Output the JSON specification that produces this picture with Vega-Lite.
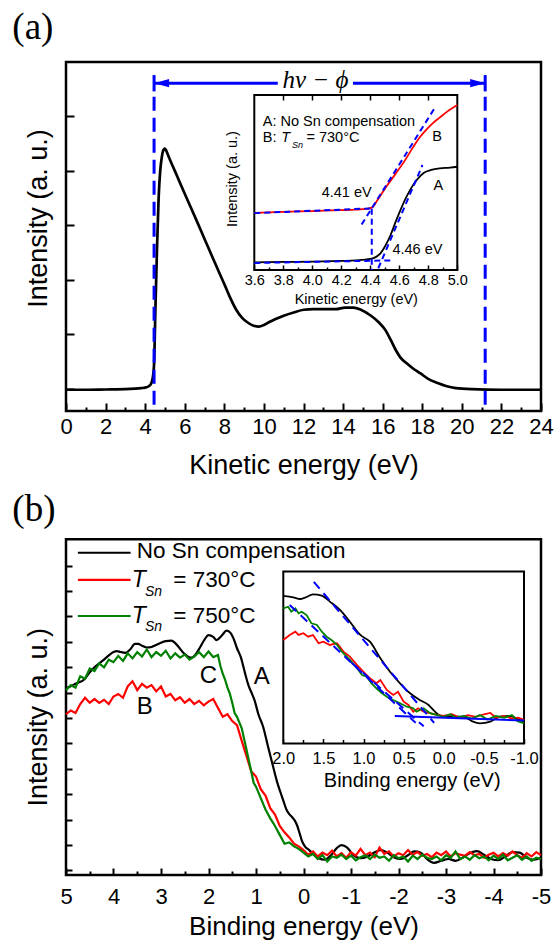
{
"$schema": "https://vega.github.io/schema/vega-lite/v6.json",
"width": 475,
"height": 813,
"autosize": {"type": "none"},
"padding": {"left": 66, "top": 62, "right": 13, "bottom": 65},
"background": "white",
"config": {
  "view": {"stroke": null},
  "axis": {"grid": false, "domain": false, "labelFont": "Liberation Sans", "titleFont": "Liberation Sans", "labelColor": "black", "titleColor": "black", "tickColor": "black", "titleFontWeight": "normal", "labelFlush": false, "labelOverlap": false, "labelBound": false},
  "text": {"font": "Liberation Sans", "color": "black"}
},
"datasets": {
  "frameA": [{"x": 0, "x2": 24, "y": -0.41, "y2": 6.0}],
  "mainA": [{"x":0,"y":-0.02},{"x":1,"y":-0.02},{"x":2,"y":-0.015},{"x":3,"y":-0.01},{"x":3.5,"y":0},{"x":3.8,"y":0.01},{"x":4.0,"y":0.02},{"x":4.16,"y":0.04},{"x":4.28,"y":0.08},{"x":4.36,"y":0.16},{"x":4.42,"y":0.3},{"x":4.45,"y":0.45},{"x":4.52,"y":1.5},{"x":4.6,"y":2.6},{"x":4.68,"y":3.5},{"x":4.76,"y":4.0},{"x":4.84,"y":4.25},{"x":4.92,"y":4.38},{"x":5.0,"y":4.41},{"x":5.08,"y":4.36},{"x":5.2,"y":4.25},{"x":5.5,"y":4.0},{"x":5.76,"y":3.78},{"x":6.0,"y":3.58},{"x":6.5,"y":3.17},{"x":7.0,"y":2.75},{"x":7.5,"y":2.33},{"x":8.0,"y":1.92},{"x":8.27,"y":1.69},{"x":8.6,"y":1.45},{"x":8.9,"y":1.3},{"x":9.16,"y":1.22},{"x":9.45,"y":1.16},{"x":9.75,"y":1.14},{"x":10.0,"y":1.17},{"x":10.3,"y":1.23},{"x":10.59,"y":1.28},{"x":11.0,"y":1.34},{"x":11.5,"y":1.4},{"x":12.02,"y":1.45},{"x":12.5,"y":1.46},{"x":13.0,"y":1.46},{"x":13.63,"y":1.46},{"x":14.1,"y":1.49},{"x":14.52,"y":1.49},{"x":14.9,"y":1.45},{"x":15.41,"y":1.34},{"x":15.8,"y":1.22},{"x":16.13,"y":1.08},{"x":16.4,"y":0.9},{"x":16.66,"y":0.71},{"x":16.9,"y":0.57},{"x":17.2,"y":0.47},{"x":17.5,"y":0.38},{"x":17.91,"y":0.28},{"x":18.3,"y":0.18},{"x":18.81,"y":0.1},{"x":19.2,"y":0.05},{"x":19.7,"y":0.01},{"x":20.5,"y":-0.01},{"x":22,"y":-0.02},{"x":24,"y":-0.02}],
  "dashA": [{"x": 4.45, "y": 5.36, "y2": -0.41}, {"x": 21.18, "y": 5.36, "y2": -0.41}],
  "barsA": [{"x": 4.45, "y": 5.76, "y2": 5.46}, {"x": 21.18, "y": 5.76, "y2": 5.46}],
  "arrA": [{"x": 4.45, "x2": 10.7, "y": 5.61}, {"x": 14.5, "x2": 21.18, "y": 5.61}],
  "frameAI": [{"x": 3.6, "x2": 5.0, "y": 0, "y2": 1}],
  "inA_A": [{"x":3.6,"y":0.044},{"x":3.8,"y":0.046},{"x":4.0,"y":0.048},{"x":4.2,"y":0.052},{"x":4.3,"y":0.055},{"x":4.4,"y":0.063},{"x":4.44,"y":0.075},{"x":4.47,"y":0.095},{"x":4.5,"y":0.133},{"x":4.54,"y":0.2},{"x":4.58,"y":0.286},{"x":4.65,"y":0.419},{"x":4.72,"y":0.514},{"x":4.77,"y":0.556},{"x":4.82,"y":0.572},{"x":4.88,"y":0.581},{"x":4.95,"y":0.585},{"x":5.0,"y":0.59}],
  "inA_B": [{"x":3.6,"y":0.327},{"x":3.8,"y":0.332},{"x":4.0,"y":0.337},{"x":4.2,"y":0.342},{"x":4.3,"y":0.345},{"x":4.37,"y":0.349},{"x":4.41,"y":0.356},{"x":4.45,"y":0.4},{"x":4.51,"y":0.476},{"x":4.57,"y":0.545},{"x":4.63,"y":0.615},{"x":4.69,"y":0.695},{"x":4.74,"y":0.757},{"x":4.79,"y":0.805},{"x":4.83,"y":0.838},{"x":4.88,"y":0.872},{"x":4.93,"y":0.905},{"x":5.0,"y":0.943}],
  "fitA": [{"x":3.6,"y":0.325,"x2":4.41,"y2":0.352},{"x":4.34,"y":0.26,"x2":4.84,"y2":0.92},{"x":4.41,"y":0.35,"x2":4.41,"y2":0.0},{"x":3.6,"y":0.04,"x2":4.54,"y2":0.055},{"x":4.455,"y":0.01,"x2":4.76,"y2":0.6}],
  "frameB": [{"x": -5, "x2": 5, "y": -0.18, "y2": 13.04}],
  "mainB_k": [{"x":5.0,"y":7.17},{"x":4.9,"y":7.25},{"x":4.8,"y":7.35},{"x":4.6,"y":7.55},{"x":4.5,"y":7.8},{"x":4.4,"y":8.0},{"x":4.3,"y":8.15},{"x":4.2,"y":8.3},{"x":4.11,"y":8.45},{"x":4.0,"y":8.6},{"x":3.93,"y":8.64},{"x":3.85,"y":8.6},{"x":3.75,"y":8.57},{"x":3.65,"y":8.7},{"x":3.55,"y":8.92},{"x":3.48,"y":8.92},{"x":3.4,"y":8.85},{"x":3.3,"y":8.78},{"x":3.2,"y":8.8},{"x":3.1,"y":8.88},{"x":3.0,"y":8.97},{"x":2.9,"y":9.03},{"x":2.78,"y":9.05},{"x":2.7,"y":8.95},{"x":2.62,"y":8.78},{"x":2.52,"y":8.55},{"x":2.43,"y":8.42},{"x":2.36,"y":8.38},{"x":2.28,"y":8.48},{"x":2.18,"y":8.78},{"x":2.08,"y":9.1},{"x":2.0,"y":9.27},{"x":1.9,"y":9.2},{"x":1.83,"y":9.07},{"x":1.72,"y":9.25},{"x":1.62,"y":9.44},{"x":1.55,"y":9.38},{"x":1.47,"y":9.12},{"x":1.4,"y":8.75},{"x":1.32,"y":8.4},{"x":1.23,"y":7.76},{"x":1.16,"y":7.3},{"x":1.09,"y":6.98},{"x":1.03,"y":6.7},{"x":0.95,"y":6.15},{"x":0.85,"y":5.66},{"x":0.75,"y":4.9},{"x":0.64,"y":4.09},{"x":0.55,"y":3.45},{"x":0.48,"y":3.05},{"x":0.43,"y":2.78},{"x":0.36,"y":2.4},{"x":0.3,"y":2.22},{"x":0.24,"y":2.1},{"x":0.18,"y":1.95},{"x":0.13,"y":1.75},{"x":0.08,"y":1.45},{"x":0.03,"y":1.15},{"x":-0.03,"y":0.95},{"x":-0.12,"y":0.8},{"x":-0.22,"y":0.62},{"x":-0.32,"y":0.48},{"x":-0.45,"y":0.42},{"x":-0.58,"y":0.6},{"x":-0.7,"y":0.88},{"x":-0.8,"y":1.0},{"x":-0.92,"y":0.9},{"x":-1.05,"y":0.6},{"x":-1.2,"y":0.48},{"x":-1.35,"y":0.55},{"x":-1.5,"y":0.72},{"x":-1.62,"y":0.8},{"x":-1.75,"y":0.72},{"x":-1.9,"y":0.52},{"x":-2.05,"y":0.45},{"x":-2.2,"y":0.6},{"x":-2.33,"y":0.75},{"x":-2.47,"y":0.7},{"x":-2.6,"y":0.45},{"x":-2.75,"y":0.3},{"x":-2.9,"y":0.38},{"x":-3.05,"y":0.45},{"x":-3.2,"y":0.38},{"x":-3.35,"y":0.5},{"x":-3.5,"y":0.68},{"x":-3.65,"y":0.76},{"x":-3.8,"y":0.62},{"x":-3.95,"y":0.45},{"x":-4.1,"y":0.4},{"x":-4.25,"y":0.55},{"x":-4.4,"y":0.72},{"x":-4.55,"y":0.7},{"x":-4.7,"y":0.5},{"x":-4.85,"y":0.42},{"x":-5.0,"y":0.5}],
  "mainB_r": [{"x":5.0,"y":6.15},{"x":4.9,"y":6.3},{"x":4.8,"y":6.2},{"x":4.7,"y":6.55},{"x":4.6,"y":6.8},{"x":4.5,"y":6.6},{"x":4.4,"y":6.75},{"x":4.3,"y":6.6},{"x":4.2,"y":6.72},{"x":4.1,"y":6.55},{"x":4.0,"y":6.85},{"x":3.9,"y":6.95},{"x":3.8,"y":6.8},{"x":3.7,"y":7.25},{"x":3.6,"y":7.45},{"x":3.5,"y":7.1},{"x":3.4,"y":7.35},{"x":3.3,"y":7.2},{"x":3.2,"y":7.3},{"x":3.1,"y":7.05},{"x":3.0,"y":7.25},{"x":2.9,"y":6.85},{"x":2.8,"y":6.95},{"x":2.7,"y":6.7},{"x":2.6,"y":6.82},{"x":2.5,"y":6.6},{"x":2.4,"y":6.75},{"x":2.3,"y":6.55},{"x":2.2,"y":6.68},{"x":2.1,"y":6.5},{"x":2.0,"y":6.65},{"x":1.9,"y":6.75},{"x":1.8,"y":6.4},{"x":1.7,"y":6.05},{"x":1.6,"y":6.15},{"x":1.5,"y":5.88},{"x":1.4,"y":5.72},{"x":1.3,"y":5.1},{"x":1.2,"y":4.5},{"x":1.1,"y":3.9},{"x":1.0,"y":3.7},{"x":0.9,"y":3.2},{"x":0.8,"y":2.95},{"x":0.7,"y":2.45},{"x":0.6,"y":2.2},{"x":0.5,"y":1.75},{"x":0.4,"y":1.5},{"x":0.3,"y":1.3},{"x":0.2,"y":1.05},{"x":0.1,"y":0.95},{"x":0.0,"y":0.8},{"x":-0.1,"y":0.62},{"x":-0.2,"y":0.75},{"x":-0.3,"y":0.55},{"x":-0.4,"y":0.7},{"x":-0.5,"y":0.6},{"x":-0.6,"y":0.78},{"x":-0.7,"y":0.55},{"x":-0.8,"y":0.68},{"x":-0.9,"y":0.5},{"x":-1.0,"y":0.72},{"x":-1.1,"y":0.58},{"x":-1.2,"y":0.85},{"x":-1.3,"y":0.6},{"x":-1.4,"y":0.7},{"x":-1.5,"y":0.52},{"x":-1.6,"y":0.9},{"x":-1.7,"y":0.65},{"x":-1.8,"y":0.75},{"x":-1.9,"y":0.55},{"x":-2.0,"y":0.68},{"x":-2.1,"y":0.6},{"x":-2.2,"y":0.8},{"x":-2.3,"y":0.62},{"x":-2.4,"y":0.72},{"x":-2.5,"y":0.58},{"x":-2.6,"y":0.65},{"x":-2.7,"y":0.52},{"x":-2.8,"y":0.7},{"x":-2.9,"y":0.6},{"x":-3.0,"y":0.75},{"x":-3.1,"y":0.55},{"x":-3.2,"y":0.68},{"x":-3.3,"y":0.62},{"x":-3.4,"y":0.58},{"x":-3.5,"y":0.72},{"x":-3.6,"y":0.6},{"x":-3.7,"y":0.65},{"x":-3.8,"y":0.5},{"x":-3.9,"y":0.62},{"x":-4.0,"y":0.7},{"x":-4.1,"y":0.55},{"x":-4.2,"y":0.68},{"x":-4.3,"y":0.58},{"x":-4.4,"y":0.75},{"x":-4.5,"y":0.6},{"x":-4.6,"y":0.5},{"x":-4.7,"y":0.68},{"x":-4.8,"y":0.55},{"x":-4.9,"y":0.72},{"x":-5.0,"y":0.6}],
  "mainB_g": [{"x":5.0,"y":7.1},{"x":4.9,"y":7.3},{"x":4.8,"y":7.2},{"x":4.7,"y":7.65},{"x":4.6,"y":7.55},{"x":4.5,"y":7.95},{"x":4.4,"y":7.85},{"x":4.3,"y":8.15},{"x":4.2,"y":8.0},{"x":4.1,"y":8.3},{"x":4.0,"y":8.2},{"x":3.9,"y":8.45},{"x":3.8,"y":8.25},{"x":3.7,"y":8.55},{"x":3.6,"y":8.35},{"x":3.5,"y":8.6},{"x":3.4,"y":8.42},{"x":3.3,"y":8.7},{"x":3.2,"y":8.4},{"x":3.1,"y":8.6},{"x":3.0,"y":8.45},{"x":2.9,"y":8.65},{"x":2.8,"y":8.35},{"x":2.7,"y":8.55},{"x":2.6,"y":8.38},{"x":2.5,"y":8.5},{"x":2.4,"y":8.3},{"x":2.3,"y":8.42},{"x":2.2,"y":8.6},{"x":2.1,"y":8.4},{"x":2.0,"y":8.62},{"x":1.9,"y":8.4},{"x":1.8,"y":8.48},{"x":1.75,"y":8.05},{"x":1.7,"y":7.75},{"x":1.65,"y":7.5},{"x":1.6,"y":7.2},{"x":1.55,"y":6.95},{"x":1.5,"y":6.6},{"x":1.45,"y":6.2},{"x":1.4,"y":6.05},{"x":1.3,"y":5.6},{"x":1.2,"y":4.75},{"x":1.1,"y":3.9},{"x":1.05,"y":3.45},{"x":1.0,"y":3.3},{"x":0.9,"y":2.85},{"x":0.8,"y":2.4},{"x":0.7,"y":2.05},{"x":0.6,"y":1.75},{"x":0.5,"y":1.4},{"x":0.4,"y":1.05},{"x":0.3,"y":1.1},{"x":0.2,"y":0.95},{"x":0.1,"y":0.85},{"x":0.0,"y":0.7},{"x":-0.1,"y":0.55},{"x":-0.2,"y":0.65},{"x":-0.3,"y":0.45},{"x":-0.4,"y":0.6},{"x":-0.5,"y":0.35},{"x":-0.6,"y":0.55},{"x":-0.7,"y":0.5},{"x":-0.8,"y":0.62},{"x":-0.9,"y":0.45},{"x":-1.0,"y":0.58},{"x":-1.1,"y":0.4},{"x":-1.2,"y":0.52},{"x":-1.3,"y":0.6},{"x":-1.4,"y":0.45},{"x":-1.5,"y":0.62},{"x":-1.6,"y":0.5},{"x":-1.7,"y":0.55},{"x":-1.8,"y":0.38},{"x":-1.9,"y":0.6},{"x":-2.0,"y":0.48},{"x":-2.1,"y":0.55},{"x":-2.2,"y":0.35},{"x":-2.3,"y":0.58},{"x":-2.4,"y":0.45},{"x":-2.5,"y":0.62},{"x":-2.6,"y":0.5},{"x":-2.7,"y":0.45},{"x":-2.8,"y":0.55},{"x":-2.9,"y":0.4},{"x":-3.0,"y":0.6},{"x":-3.1,"y":0.5},{"x":-3.2,"y":0.75},{"x":-3.3,"y":0.45},{"x":-3.4,"y":0.55},{"x":-3.5,"y":0.42},{"x":-3.6,"y":0.6},{"x":-3.7,"y":0.48},{"x":-3.8,"y":0.55},{"x":-3.9,"y":0.4},{"x":-4.0,"y":0.58},{"x":-4.1,"y":0.45},{"x":-4.2,"y":0.62},{"x":-4.3,"y":0.4},{"x":-4.4,"y":0.5},{"x":-4.5,"y":0.6},{"x":-4.6,"y":0.42},{"x":-4.7,"y":0.55},{"x":-4.8,"y":0.38},{"x":-4.9,"y":0.5},{"x":-5.0,"y":0.45}],
  "legB_k": [{"x": 4.75, "x2": 3.64, "y": 12.51}],
  "legB_r": [{"x": 4.75, "x2": 3.64, "y": 11.44}],
  "legB_g": [{"x": 4.75, "x2": 3.64, "y": 10.02}],
  "frameBI": [{"x": -1, "x2": 2, "y": 0, "y2": 1}],
  "inB_k": [{"x":2.0,"y":0.858},{"x":1.875,"y":0.85},{"x":1.79,"y":0.84},{"x":1.73,"y":0.848},{"x":1.63,"y":0.867},{"x":1.52,"y":0.86},{"x":1.42,"y":0.825},{"x":1.29,"y":0.776},{"x":1.17,"y":0.708},{"x":1.04,"y":0.631},{"x":0.92,"y":0.592},{"x":0.79,"y":0.495},{"x":0.67,"y":0.417},{"x":0.545,"y":0.35},{"x":0.42,"y":0.292},{"x":0.3,"y":0.253},{"x":0.19,"y":0.224},{"x":0.11,"y":0.185},{"x":0.046,"y":0.162},{"x":-0.08,"y":0.156},{"x":-0.245,"y":0.156},{"x":-0.35,"y":0.13},{"x":-0.45,"y":0.117},{"x":-0.58,"y":0.127},{"x":-0.7,"y":0.156},{"x":-0.83,"y":0.16},{"x":-0.93,"y":0.14},{"x":-1.0,"y":0.127}],
  "inB_r": [{"x":2.0,"y":0.602},{"x":1.92,"y":0.631},{"x":1.85,"y":0.65},{"x":1.81,"y":0.631},{"x":1.75,"y":0.641},{"x":1.69,"y":0.621},{"x":1.63,"y":0.631},{"x":1.56,"y":0.583},{"x":1.5,"y":0.592},{"x":1.42,"y":0.573},{"x":1.33,"y":0.583},{"x":1.25,"y":0.534},{"x":1.17,"y":0.505},{"x":1.08,"y":0.456},{"x":1.0,"y":0.417},{"x":0.92,"y":0.379},{"x":0.84,"y":0.35},{"x":0.79,"y":0.369},{"x":0.71,"y":0.311},{"x":0.63,"y":0.282},{"x":0.57,"y":0.301},{"x":0.5,"y":0.243},{"x":0.44,"y":0.224},{"x":0.38,"y":0.185},{"x":0.32,"y":0.205},{"x":0.25,"y":0.185},{"x":0.17,"y":0.176},{"x":0.09,"y":0.166},{"x":0.0,"y":0.16},{"x":-0.1,"y":0.17},{"x":-0.2,"y":0.15},{"x":-0.3,"y":0.165},{"x":-0.4,"y":0.155},{"x":-0.5,"y":0.17},{"x":-0.58,"y":0.178},{"x":-0.65,"y":0.15},{"x":-0.75,"y":0.16},{"x":-0.85,"y":0.145},{"x":-0.93,"y":0.15},{"x":-1.0,"y":0.137}],
  "inB_g": [{"x":2.0,"y":0.786},{"x":1.94,"y":0.795},{"x":1.9,"y":0.766},{"x":1.85,"y":0.786},{"x":1.81,"y":0.757},{"x":1.77,"y":0.766},{"x":1.71,"y":0.747},{"x":1.65,"y":0.699},{"x":1.58,"y":0.689},{"x":1.52,"y":0.65},{"x":1.46,"y":0.621},{"x":1.4,"y":0.602},{"x":1.33,"y":0.573},{"x":1.27,"y":0.534},{"x":1.21,"y":0.505},{"x":1.15,"y":0.476},{"x":1.08,"y":0.437},{"x":1.02,"y":0.398},{"x":0.96,"y":0.388},{"x":0.9,"y":0.35},{"x":0.84,"y":0.321},{"x":0.77,"y":0.292},{"x":0.71,"y":0.272},{"x":0.63,"y":0.253},{"x":0.545,"y":0.234},{"x":0.46,"y":0.214},{"x":0.38,"y":0.205},{"x":0.34,"y":0.185},{"x":0.25,"y":0.205},{"x":0.17,"y":0.176},{"x":0.09,"y":0.166},{"x":0.0,"y":0.155},{"x":-0.08,"y":0.17},{"x":-0.15,"y":0.15},{"x":-0.25,"y":0.16},{"x":-0.35,"y":0.145},{"x":-0.45,"y":0.165},{"x":-0.55,"y":0.14},{"x":-0.65,"y":0.16},{"x":-0.75,"y":0.15},{"x":-0.85,"y":0.165},{"x":-0.92,"y":0.13},{"x":-1.0,"y":0.117}],
  "fitB": [{"x":1.62,"y":0.94,"x2":0.12,"y2":0.12},{"x":1.92,"y":0.805,"x2":0.35,"y2":0.12},{"x":1.15,"y":0.47,"x2":0.25,"y2":0.1}],
  "baseB": [{"x":0.61,"y":0.16,"x2":-1.0,"y2":0.133}]
},
"layer": [
  {
    "encoding": {
      "x": {"field": "x", "type": "quantitative", "scale": {"domain": [0, 24], "nice": false, "zero": false},
        "axis": {"orient": "bottom", "offset": -464, "values": [0,1,2,3,4,5,6,7,8,9,10,11,12,13,14,15,16,17,18,19,20,21,22,23,24], "labelExpr": "datum.value % 2 === 0 ? '' + datum.value : ''", "tickSize": {"condition": {"test": "datum.value % 2 === 0", "value": -8}, "value": -4}, "tickWidth": 2, "labelFontSize": 22, "labelPadding": 30, "labelBaseline": "alphabetic", "title": "Kinetic energy (eV)", "titleFontSize": 27, "titleBaseline": "alphabetic", "titleY": 62}},
      "y": {"field": "y", "type": "quantitative", "scale": {"domain": [-0.41, 6.0], "range": [349, 0], "nice": false, "zero": false},
        "axis": {"orient": "left", "values": [0,1,2,3,4,5], "labels": false, "tickSize": -8, "tickWidth": 2, "title": "Intensity (a. u.)", "titleFontSize": 27, "titleAngle": -90, "titleBaseline": "alphabetic", "titleAlign": "center", "titleX": -20, "titleY": 156}}
    },
    "layer": [
      {"data": {"name": "frameA"}, "mark": {"type": "rect", "filled": false, "stroke": "black", "strokeWidth": 2.5}, "encoding": {"x2": {"field": "x2"}, "y2": {"field": "y2"}}},
      {"data": {"name": "mainA"}, "mark": {"type": "line", "color": "black", "strokeWidth": 2.7, "interpolate": "monotone"}, "encoding": {}},
      {"data": {"name": "dashA"}, "mark": {"type": "rule", "color": "#0000ff", "strokeWidth": 3, "strokeDash": [14, 7]}, "encoding": {"y2": {"field": "y2"}}},
      {"data": {"name": "barsA"}, "mark": {"type": "rule", "color": "#0000ff", "strokeWidth": 3}, "encoding": {"y2": {"field": "y2"}}},
      {"data": {"name": "arrA"}, "mark": {"type": "rule", "color": "#0000ff", "strokeWidth": 3}, "encoding": {"x2": {"field": "x2"}}},
      {"data": {"values": [{"x": 4.83, "y": 5.61}]}, "mark": {"type": "point", "shape": "M-1,0L1,-0.55L1,0.55Z", "size": 225, "filled": true, "color": "#0000ff", "opacity": 1}, "encoding": {}},
      {"data": {"values": [{"x": 20.8, "y": 5.61}]}, "mark": {"type": "point", "shape": "M1,0L-1,-0.55L-1,0.55Z", "size": 225, "filled": true, "color": "#0000ff", "opacity": 1}, "encoding": {}},
      {"data": {"values": [{"x": 12.6, "y": 5.53, "t": "hν − ϕ"}]}, "mark": {"type": "text", "font": "Liberation Serif", "fontStyle": "italic", "fontSize": 25, "align": "center", "baseline": "alphabetic"}, "encoding": {"text": {"field": "t"}}},
      {"data": {"values": [{"x": -2.71, "y": 6.43, "t": "(a)"}]}, "mark": {"type": "text", "font": "Liberation Serif", "fontSize": 37, "align": "left", "baseline": "alphabetic"}, "encoding": {"text": {"field": "t"}}}
    ]
  },
  {
    "encoding": {
      "x": {"field": "x", "type": "quantitative", "scale": {"domain": [3.6, 5.0], "range": [188.3, 391.3], "nice": false, "zero": false},
        "axis": {"orient": "bottom", "offset": -605, "values": [3.6,3.7,3.8,3.9,4.0,4.1,4.2,4.3,4.4,4.5,4.6,4.7,4.8,4.9,5.0], "labelExpr": "round(datum.value*10) % 2 === 0 ? format(datum.value, '.1f') : ''", "tickSize": {"condition": {"test": "round(datum.value*10) % 2 === 0", "value": -5}, "value": -3}, "tickWidth": 1.5, "labelFontSize": 14.5, "labelPadding": 19, "labelBaseline": "alphabetic", "title": "Kinetic energy (eV)", "titleFontSize": 14.5, "titleBaseline": "alphabetic", "titleY": 33}},
      "y": {"field": "y", "type": "quantitative", "scale": {"domain": [0, 1], "range": [208, 33], "nice": false, "zero": false},
        "axis": {"orient": "left", "offset": -188.3, "labels": false, "ticks": false, "title": "Intensity (a. u.)", "titleFontSize": 14.5, "titleAngle": -90, "titleBaseline": "alphabetic", "titleAlign": "center", "titleX": -18, "titleY": 116.5}}
    },
    "layer": [
      {"data": {"name": "frameAI"}, "mark": {"type": "rect", "filled": false, "stroke": "black", "strokeWidth": 2}, "encoding": {"x2": {"field": "x2"}, "y2": {"field": "y2"}}},
      {"data": {"name": "inA_A"}, "mark": {"type": "line", "color": "black", "strokeWidth": 1.8, "interpolate": "monotone"}, "encoding": {}},
      {"data": {"name": "inA_B"}, "mark": {"type": "line", "color": "#ff0000", "strokeWidth": 1.8, "interpolate": "monotone"}, "encoding": {}},
      {"data": {"name": "fitA"}, "mark": {"type": "rule", "color": "#0000ff", "strokeWidth": 2, "strokeDash": [6, 4]}, "encoding": {"x2": {"field": "x2"}, "y2": {"field": "y2"}}},
      {"data": {"values": [{"x": 3.658, "y": 0.847, "t": "A: No Sn compensation"}, {"x": 3.658, "y": 0.753, "t": "B:"}, {"x": 3.96, "y": 0.753, "t": "= 730°C"}]}, "mark": {"type": "text", "fontSize": 14.5, "align": "left", "baseline": "middle"}, "encoding": {"text": {"field": "t"}}},
      {"data": {"values": [{"x": 3.785, "y": 0.753, "t": "T"}]}, "mark": {"type": "text", "fontSize": 14.5, "fontStyle": "italic", "align": "left", "baseline": "middle"}, "encoding": {"text": {"field": "t"}}},
      {"data": {"values": [{"x": 3.86, "y": 0.714, "t": "Sn"}]}, "mark": {"type": "text", "fontSize": 9, "fontStyle": "italic", "align": "left", "baseline": "middle"}, "encoding": {"text": {"field": "t"}}},
      {"data": {"values": [{"x": 4.237, "y": 0.438, "t": "4.41 eV"}, {"x": 4.725, "y": 0.114, "t": "4.46 eV"}, {"x": 4.87, "y": 0.48, "t": "A"}, {"x": 4.86, "y": 0.762, "t": "B"}]}, "mark": {"type": "text", "fontSize": 14.5, "align": "center", "baseline": "middle"}, "encoding": {"text": {"field": "t"}}}
    ]
  },
  {
    "data": {"name": "frameAI"},
    "mark": {"type": "rule", "opacity": 0},
    "encoding": {
      "x": {"field": "x", "type": "quantitative", "scale": {"domain": [3.6, 5.0], "range": [188.3, 391.3], "nice": false, "zero": false},
        "axis": {"orient": "top", "offset": -33, "values": [3.8,4.0,4.2,4.4,4.6,4.8], "labels": false, "tickSize": -5, "tickWidth": 1.5, "title": null}},
      "x2": {"field": "x2"},
      "y": {"field": "y", "type": "quantitative", "scale": {"domain": [0, 1], "range": [208, 33], "nice": false, "zero": false}, "axis": null}
    }
  },
  {
    "encoding": {
      "x": {"field": "x", "type": "quantitative", "scale": {"domain": [-5, 5], "reverse": true, "nice": false, "zero": false},
        "axis": {"orient": "bottom", "values": [-5,-4.5,-4,-3.5,-3,-2.5,-2,-1.5,-1,-0.5,0,0.5,1,1.5,2,2.5,3,3.5,4,4.5,5], "labelExpr": "datum.value % 1 === 0 ? (datum.value < 0 ? '-' + abs(datum.value) : '' + datum.value) : ''", "tickSize": {"condition": {"test": "datum.value % 1 === 0", "value": -7}, "value": -4}, "tickWidth": 2, "labelFontSize": 22, "labelPadding": 35.3, "labelBaseline": "alphabetic", "title": "Binding energy (eV)", "titleFontSize": 26, "titleBaseline": "alphabetic", "titleY": 59}},
      "y": {"field": "y", "type": "quantitative", "scale": {"domain": [-0.18, 13.04], "range": [813, 477.3], "nice": false, "zero": false},
        "axis": {"orient": "left", "values": [0,1,2,3,4,5,6,7,8,9,10,11,12], "labels": false, "tickSize": -6, "tickWidth": 2, "title": "Intensity (a. u.)", "titleFontSize": 27, "titleAngle": -90, "titleBaseline": "alphabetic", "titleAlign": "center", "titleX": -20, "titleY": 654.7}}
    },
    "layer": [
      {"data": {"name": "frameB"}, "mark": {"type": "rect", "filled": false, "stroke": "black", "strokeWidth": 2.5}, "encoding": {"x2": {"field": "x2"}, "y2": {"field": "y2"}}},
      {"data": {"name": "mainB_k"}, "mark": {"type": "line", "color": "black", "strokeWidth": 2.2, "interpolate": "monotone"}, "encoding": {}},
      {"data": {"name": "mainB_r"}, "mark": {"type": "line", "color": "#ff0000", "strokeWidth": 2.2}, "encoding": {}},
      {"data": {"name": "mainB_g"}, "mark": {"type": "line", "color": "#008000", "strokeWidth": 2.2}, "encoding": {}},
      {"data": {"name": "legB_k"}, "mark": {"type": "rule", "color": "black", "strokeWidth": 2.2}, "encoding": {"x2": {"field": "x2"}}},
      {"data": {"name": "legB_r"}, "mark": {"type": "rule", "color": "#ff0000", "strokeWidth": 2.2}, "encoding": {"x2": {"field": "x2"}}},
      {"data": {"name": "legB_g"}, "mark": {"type": "rule", "color": "#008000", "strokeWidth": 2.2}, "encoding": {"x2": {"field": "x2"}}},
      {"data": {"values": [{"x": 3.512, "y": 12.59, "t": "No Sn compensation"}, {"x": 2.741, "y": 11.44, "t": "= 730°C"}, {"x": 2.741, "y": 10.02, "t": "= 750°C"}]}, "mark": {"type": "text", "fontSize": 22.5, "align": "left", "baseline": "middle"}, "encoding": {"text": {"field": "t"}}},
      {"data": {"values": [{"x": 3.617, "y": 11.44, "t": "T"}, {"x": 3.617, "y": 10.02, "t": "T"}]}, "mark": {"type": "text", "fontSize": 23, "fontStyle": "italic", "align": "left", "baseline": "middle"}, "encoding": {"text": {"field": "t"}}},
      {"data": {"values": [{"x": 3.337, "y": 10.98, "t": "Sn"}, {"x": 3.337, "y": 9.57, "t": "Sn"}]}, "mark": {"type": "text", "fontSize": 14, "fontStyle": "italic", "align": "left", "baseline": "middle"}, "encoding": {"text": {"field": "t"}}},
      {"data": {"values": [{"x": 0.88, "y": 7.6, "t": "A"}, {"x": 2.0, "y": 7.66, "t": "C"}, {"x": 3.34, "y": 6.42, "t": "B"}]}, "mark": {"type": "text", "fontSize": 24, "align": "center", "baseline": "middle"}, "encoding": {"text": {"field": "t"}}},
      {"data": {"values": [{"x": 6.13, "y": 13.76, "t": "(b)"}]}, "mark": {"type": "text", "font": "Liberation Serif", "fontSize": 37, "align": "left", "baseline": "alphabetic"}, "encoding": {"text": {"field": "t"}}}
    ]
  },
  {
    "encoding": {
      "x": {"field": "x", "type": "quantitative", "scale": {"domain": [-1, 2], "range": [217.3, 458], "reverse": true, "nice": false, "zero": false},
        "axis": {"orient": "bottom", "offset": -131.5, "values": [-1,-0.75,-0.5,-0.25,0,0.25,0.5,0.75,1,1.25,1.5,1.75,2], "labelExpr": "datum.value % 0.5 === 0 ? (datum.value < 0 ? '-' + format(abs(datum.value), '.1f') : format(datum.value, '.1f')) : ''", "tickSize": {"condition": {"test": "datum.value % 0.5 === 0", "value": -5}, "value": -4}, "tickWidth": 1.5, "labelFontSize": 16.5, "labelPadding": 24.8, "labelBaseline": "alphabetic", "title": "Binding energy (eV)", "titleFontSize": 20, "titleBaseline": "alphabetic", "titleAlign": "center", "titleX": 345.7, "titleY": 43.2}},
      "y": {"field": "y", "type": "quantitative", "scale": {"domain": [0, 1], "range": [681.5, 509.5], "nice": false, "zero": false}, "axis": null}
    },
    "layer": [
      {"data": {"name": "frameBI"}, "mark": {"type": "rect", "filled": false, "stroke": "black", "strokeWidth": 2}, "encoding": {"x2": {"field": "x2"}, "y2": {"field": "y2"}}},
      {"data": {"name": "inB_k"}, "mark": {"type": "line", "color": "black", "strokeWidth": 1.8, "interpolate": "monotone"}, "encoding": {}},
      {"data": {"name": "inB_r"}, "mark": {"type": "line", "color": "#ff0000", "strokeWidth": 1.8}, "encoding": {}},
      {"data": {"name": "inB_g"}, "mark": {"type": "line", "color": "#008000", "strokeWidth": 1.8}, "encoding": {}},
      {"data": {"name": "fitB"}, "mark": {"type": "rule", "color": "#0000ff", "strokeWidth": 2, "strokeDash": [9, 6]}, "encoding": {"x2": {"field": "x2"}, "y2": {"field": "y2"}}},
      {"data": {"name": "baseB"}, "mark": {"type": "rule", "color": "#0000ff", "strokeWidth": 2}, "encoding": {"x2": {"field": "x2"}, "y2": {"field": "y2"}}}
    ]
  }
],
"resolve": {"scale": {"x": "independent", "y": "independent"}, "axis": {"x": "independent", "y": "independent"}}
}
